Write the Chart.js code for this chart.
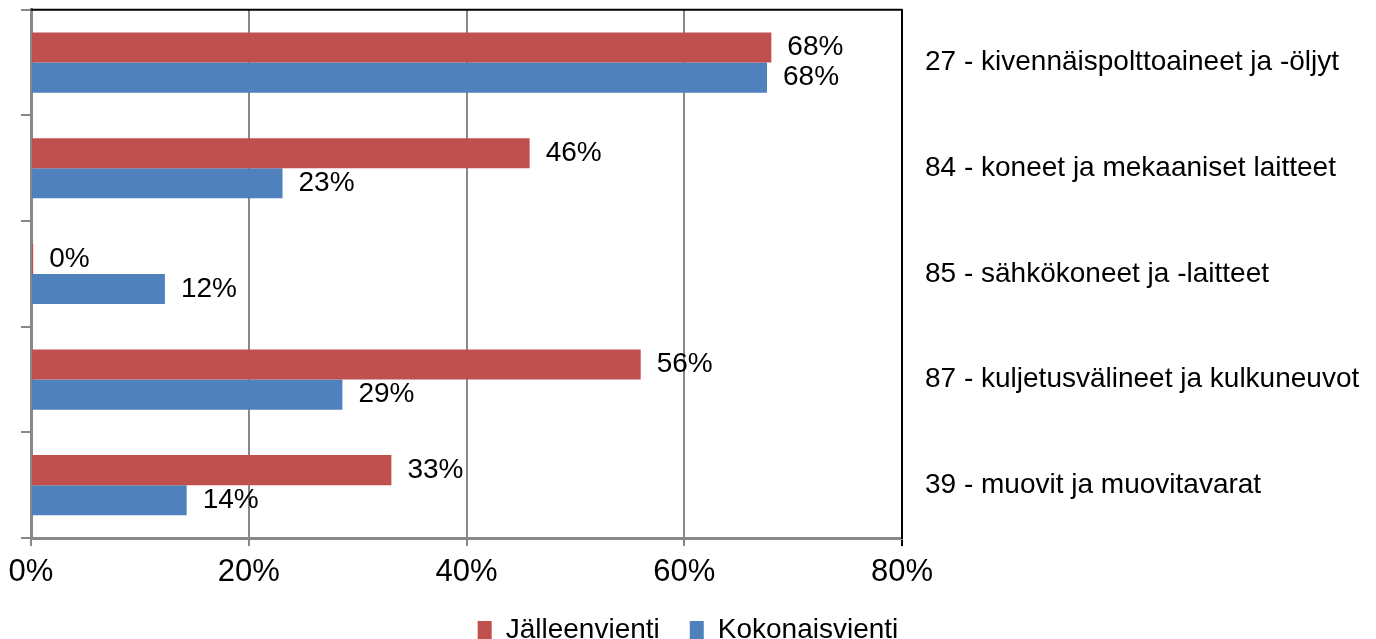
<!DOCTYPE html>
<html lang="fi">
<head>
  <meta charset="UTF-8">
  <title>Jälleenvienti ja kokonaisvienti</title>
  <script src="https://cdn.jsdelivr.net/npm/chart.js"></script>
  <style>
    body { margin: 0; overflow: hidden; background: #fff; }
    /* yläreunan tyhjä tila leikataan pois */
    #wrap { width: 1376px; height: 684px; margin-top: -30px; }
  </style>
</head>
<body>
  <div id="wrap"><canvas id="chart"></canvas></div>

<script>
// tuoteryhmät (ylhäältä alas)
const categories = [
  '27 - kivennäispolttoaineet ja -öljyt',
  '84 - koneet ja mekaaniset laitteet',
  '85 - sähkökoneet ja -laitteet',
  '87 - kuljetusvälineet ja kulkuneuvot',
  '39 - muovit ja muovitavarat'
];
// osuudet prosentteina
const reExport = [68.0, 45.8, 0.2, 56.0, 33.1];
const totalExport = [67.6, 23.1, 12.3, 28.6, 14.3];
const xTicks = [0, 20, 40, 60, 80];

const FONT = "'Liberation Sans', Arial, sans-serif";

// arvot palkkien perään
const barLabels = {
  id: 'barLabels',
  afterDatasetsDraw(chart) {
    const ctx = chart.ctx;
    ctx.save();
    ctx.font = '28px ' + FONT;
    ctx.fillStyle = '#000';
    ctx.textBaseline = 'middle';
    chart.data.datasets.forEach((ds, i) => {
      chart.getDatasetMeta(i).data.forEach((bar, j) => {
        ctx.fillText(Math.round(ds.data[j]) + '%', bar.x + 16, bar.y);
      });
    });
    ctx.restore();
  }
};

// kuvaajan yläreuna
const topBorder = {
  id: 'topBorder',
  afterDraw(chart) {
    const a = chart.chartArea, ctx = chart.ctx;
    ctx.save();
    ctx.strokeStyle = '#000';
    ctx.lineWidth = 2;
    ctx.beginPath();
    ctx.moveTo(a.left, a.top);
    ctx.lineTo(a.right, a.top);
    ctx.stroke();
    ctx.restore();
  }
};

new Chart(document.getElementById('chart'), {
  type: 'bar',
  data: {
    labels: categories,
    datasets: [
      { label: 'Jälleenvienti', data: reExport, backgroundColor: '#C0504D' },
      { label: 'Kokonaisvienti', data: totalExport, backgroundColor: '#4F81BD' }
    ]
  },
  options: {
    indexAxis: 'y',
    responsive: true,
    maintainAspectRatio: false,
    animation: false,
    categoryPercentage: 0.57,
    barPercentage: 1.0,
    layout: { padding: 0 },
    scales: {
      x: {
        min: 0, max: 80,
        afterBuildTicks: s => { s.ticks = xTicks.map(v => ({ value: v })); },
        afterFit: s => { s.height = 48; },
        ticks: {
          color: '#000',
          font: { family: FONT, size: 31 },
          padding: 8,
          callback: v => v + '%'
        },
        grid: {
          color: ctx => ctx.tick && ctx.tick.value === 80 ? '#000' : '#888',
          lineWidth: 2,
          tickLength: 8
        },
        border: { color: '#888', width: 3 }
      },
      y: {
        position: 'left',
        afterFit: s => { s.width = 31; },
        ticks: { display: false },
        grid: { offset: true, drawOnChartArea: false, color: '#888', lineWidth: 2, tickLength: 10 },
        border: { color: '#888', width: 3 }
      },
      y2: {
        type: 'category',
        position: 'right',
        labels: categories,
        offset: true,
        afterFit: s => { s.width = 474; },
        ticks: { color: '#000', font: { family: FONT, size: 28 }, padding: 23 },
        grid: { display: false, drawTicks: false },
        border: { color: '#000', width: 2 }
      }
    },
    plugins: {
      legend: {
        position: 'bottom',
        labels: {
          color: '#000',
          font: { family: FONT, size: 28 },
          boxWidth: 14,
          boxHeight: 18,
          padding: 30
        }
      },
      tooltip: { enabled: false },
      title: { display: false }
    }
  },
  plugins: [barLabels, topBorder]
});
</script>
</body>
</html>
